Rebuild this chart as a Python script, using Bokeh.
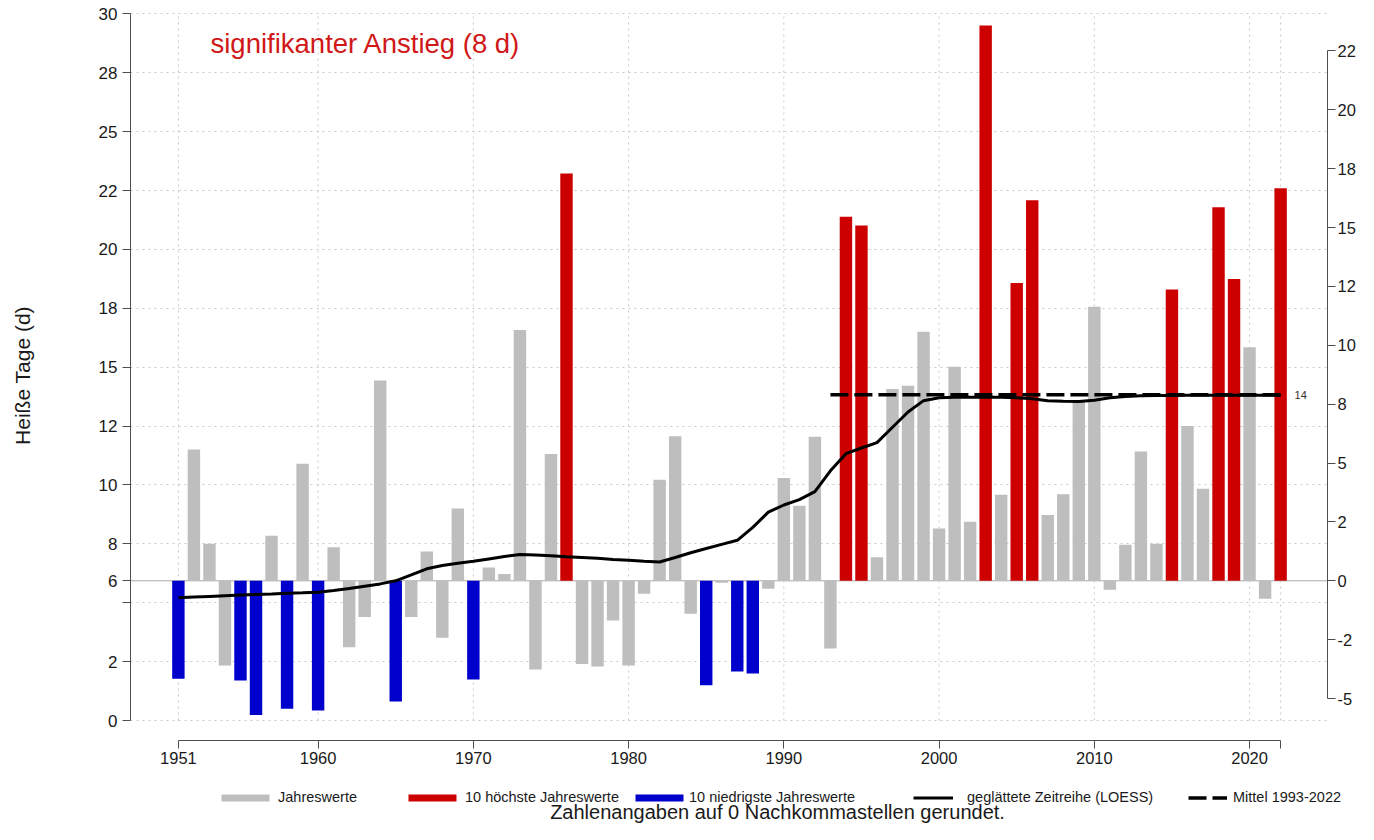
import numpy as np
from bokeh.plotting import figure
from bokeh.layouts import column
from bokeh.models import (Range1d, LinearAxis, FixedTicker, Span, Label, Legend,
                          LegendItem, ColumnDataSource)
from bokeh.core.properties import value
from bokeh.embed import file_html
from bokeh.resources import INLINE

# ---------------- data ----------------
years = list(range(1951, 2023))
hot_days = [1.77, 11.51, 7.50, 2.34, 1.70, 0.23, 7.84, 0.50, 10.90, 0.42,     # 1951-1960
            7.36, 3.11, 4.39, 14.44, 0.81, 4.39, 7.18, 3.51, 9.00, 1.74,      # 1961-1970
            6.50, 6.22, 16.58, 2.17, 11.32, 23.22, 2.40, 2.29, 4.25, 2.34,    # 1971-1980
            5.38, 10.22, 12.07, 4.53, 1.50, 5.85, 2.08, 2.00, 5.59, 10.30,    # 1981-1990
            9.12, 12.05, 3.06, 21.39, 21.02, 6.93, 14.08, 14.21, 16.51, 8.15, # 1991-2000
            15.02, 8.44, 29.51, 9.58, 18.58, 22.09, 8.72, 9.61, 13.59, 17.57, # 2001-2010
            5.55, 7.46, 11.42, 7.50, 18.30, 12.50, 9.84, 21.79, 18.75, 15.85, # 2011-2020
            5.17, 22.60]                                                      # 2021-2022
loess = [5.21, 5.24, 5.27, 5.30, 5.33, 5.35, 5.37, 5.40, 5.42, 5.45,
         5.52, 5.60, 5.70, 5.80, 5.93, 6.18, 6.44, 6.58, 6.68, 6.76,
         6.86, 6.96, 7.05, 7.03, 6.99, 6.95, 6.92, 6.89, 6.84, 6.80,
         6.76, 6.73, 6.92, 7.12, 7.30, 7.48, 7.65, 8.20, 8.85, 9.15,
         9.38, 9.72, 10.60, 11.33, 11.57, 11.80, 12.45, 13.10, 13.58, 13.70,
         13.72, 13.72, 13.72, 13.72, 13.70, 13.66, 13.58, 13.55, 13.54, 13.60,
         13.70, 13.76, 13.79, 13.80, 13.80, 13.81, 13.81, 13.81, 13.81, 13.81,
         13.81, 13.81]
ref_period = [1951, 1980]
mean_period = [1993, 2022]

x_ticks = [1951, 1960, 1970, 1980, 1990, 2000, 2010, 2020, 2022]
x_tick_labels = ["1951", "1960", "1970", "1980", "1990", "2000", "2010", "2020", ""]
y_ticks = [0, 2.5, 5, 7.5, 10, 12.5, 15, 17.5, 20, 22.5, 25, 27.5, 30]
y_tick_labels = ["0", "2", "", "8", "10", "12", "15", "18", "20", "22", "25", "28", "30"]
anom_ticks = [-5, -2.5, 0, 2.5, 5, 7.5, 10, 12.5, 15, 17.5, 20, 22.5]
anom_tick_labels = ["-5", "-2", "0", "2", "5", "8", "10", "12", "15", "18", "20", "22"]
legend_labels = ["Jahreswerte", "10 höchste Jahreswerte", "10 niedrigste Jahreswerte",
                 "geglättete Zeitreihe (LOESS)", "Mittel 1993-2022"]
y_label = "Heiße Tage (d)"
footnote = "Zahlenangaben auf 0 Nachkommastellen gerundet."

# ---------------- derived ----------------
yr = np.array(years)
hd = np.array(hot_days)
base = float(hd[(yr >= ref_period[0]) & (yr <= ref_period[1])].mean())
mmask = (yr >= mean_period[0]) & (yr <= mean_period[1])
recent_mean = float(hd[mmask].mean())
order = np.argsort(hd)
low10 = set(yr[order[:10]].tolist())
high10 = set(yr[order[-10:]].tolist())
cat = ["high" if y in high10 else ("low" if y in low10 else "norm") for y in years]

def subset(c):
    idx = [i for i, k in enumerate(cat) if k == c]
    return ColumnDataSource(dict(x=[years[i] for i in idx], top=[hot_days[i] for i in idx],
                                 bottom=[base] * len(idx)))

FONT = "Liberation Sans"
AX = "#4D4D4D"
TXT = "#1A1A1A"
GRID = "#C8C8C8"
C_NORM, C_HIGH, C_LOW = "#BEBEBE", "#CD0000", "#0000CD"
Y0, Y1 = -0.849, 30.145
W = 1358

p = figure(width=W, height=772, output_backend="svg", toolbar_location=None,
           x_range=Range1d(1947.915, 2025.02), y_range=Range1d(Y0, Y1),
           min_border_left=130, min_border_right=28, min_border_top=10, min_border_bottom=32,
           outline_line_color=None, title=None, background_fill_color="white",
           frame_align=False)
p.extra_y_ranges = {"anom": Range1d(Y0 - base, Y1 - base)}

# grid
p.xgrid.grid_line_color = None
p.ygrid.ticker = FixedTicker(ticks=y_ticks)
p.ygrid.grid_line_color = GRID
p.ygrid.grid_line_dash = "2 4"
p.ygrid.grid_line_width = 1
n = len(x_ticks)
p.segment(x0=x_ticks, y0=[y_ticks[0]] * n, x1=x_ticks, y1=[y_ticks[-1]] * n,
          line_color=GRID, line_dash="2 4", line_width=1)

p.add_layout(Span(location=base, dimension="width", line_color="#A8A8A8",
                  line_width=1, level="underlay"))

# bars
p.vbar(x="x", top="top", bottom="bottom", width=0.8, source=subset("norm"),
       fill_color=C_NORM, line_color=None)
p.vbar(x="x", top="top", bottom="bottom", width=0.8, source=subset("high"),
       fill_color=C_HIGH, line_color=None)
p.vbar(x="x", top="top", bottom="bottom", width=0.8, source=subset("low"),
       fill_color=C_LOW, line_color=None)

# lines
p.line(years, loess, line_color="black", line_width=3)
myears = yr[mmask].tolist()
p.line(myears, [recent_mean] * len(myears), line_color="black",
       line_width=3.5, line_dash="18 6")
p.text(x=[myears[-1]], y=[recent_mean], text=[str(round(recent_mean))], x_offset=14,
       text_baseline="middle", text_align="left", text_font=value(FONT),
       text_font_size="11px", text_color="#333333")

# axes
def style(ax, size="17px"):
    ax.axis_line_color = AX
    ax.major_tick_line_color = AX
    ax.minor_tick_line_color = None
    ax.major_tick_out = 8
    ax.major_tick_in = 0
    ax.major_label_text_font = FONT
    ax.major_label_text_font_size = size
    ax.major_label_text_color = TXT

xa = p.xaxis[0]
style(xa, "16.5px")
xa.ticker = FixedTicker(ticks=x_ticks)
xa.major_label_overrides = dict(zip(x_ticks, x_tick_labels))
xa.bounds = (x_ticks[0], x_ticks[-1])
xa.major_label_standoff = 3

ya = p.yaxis[0]
style(ya)
ya.ticker = FixedTicker(ticks=y_ticks + [base])
ov = dict(zip(y_ticks, y_tick_labels))
ov[base] = str(round(base))
ya.major_label_overrides = ov
ya.bounds = (y_ticks[0], y_ticks[-1])
ya.axis_label = y_label
ya.axis_label_text_font = FONT
ya.axis_label_text_font_size = "21px"
ya.axis_label_text_font_style = "normal"
ya.axis_label_text_color = TXT
ya.axis_label_standoff = 62

ra = LinearAxis(y_range_name="anom", ticker=FixedTicker(ticks=anom_ticks),
                bounds=(anom_ticks[0], anom_ticks[-1]))
style(ra, "16.5px")
ra.major_label_overrides = dict(zip(anom_ticks, anom_tick_labels))
ra.major_label_standoff = 2
p.add_layout(ra, "right")

# in-plot annotation
anstieg = round(recent_mean - base)
p.add_layout(Label(x=80, y=697, x_units="screen", y_units="screen",
                   text=f"signifikanter Anstieg ({anstieg} d)", text_font=FONT,
                   text_font_size="27.5px", text_color="#D01818", text_baseline="middle",
                   text_align="left"))

# ---------------- legend strip + footnote ----------------
lf = figure(width=W, height=52, output_backend="svg", toolbar_location=None,
            x_range=Range1d(0, 1), y_range=Range1d(0, 1), x_axis_type=None, y_axis_type=None,
            min_border=0, min_border_left=0, min_border_right=0, min_border_top=0,
            min_border_bottom=0, outline_line_color=None, title=None, frame_align=False)
# legend keys: styled renderers whose single point lies outside the visible strip
off = [5.0]
lr_norm = lf.vbar(x=off, top=off, bottom=off, width=0.8, fill_color=C_NORM, line_color=None)
lr_high = lf.vbar(x=off, top=off, bottom=off, width=0.8, fill_color=C_HIGH, line_color=None)
lr_low = lf.vbar(x=off, top=off, bottom=off, width=0.8, fill_color=C_LOW, line_color=None)
lr_loess = lf.line(x=off * 2, y=off * 2, line_color="black", line_width=3)
lr_mean = lf.line(x=off * 2, y=off * 2, line_color="black", line_width=3.5, line_dash="18 6")

leg_specs = [(lr_norm, 215, 60, 3), (lr_high, 402, 60, 3), (lr_low, 629, 60, 0),
             (lr_loess, 913, 40, 14), (lr_mean, 1188, 39, 6)]
for lab, (r, lx, gw, st) in zip(legend_labels, leg_specs):
    lg = Legend(items=[LegendItem(label=lab, renderers=[r])], location=(lx, 19),
                orientation="horizontal", glyph_width=gw, glyph_height=9,
                label_standoff=st, padding=0, margin=0, spacing=0,
                border_line_color=None, background_fill_color=None,
                label_text_font=FONT, label_text_font_size="14.5px",
                label_text_color=TXT)
    lf.add_layout(lg)

lf.add_layout(Label(x=777, y=13, x_units="screen", y_units="screen", text=footnote,
                    text_font=FONT, text_font_size="20px", text_color=TXT,
                    text_baseline="middle", text_align="center"))

layout = column(p, lf, spacing=0)
open("out.html", "w").write(file_html(layout, INLINE))
